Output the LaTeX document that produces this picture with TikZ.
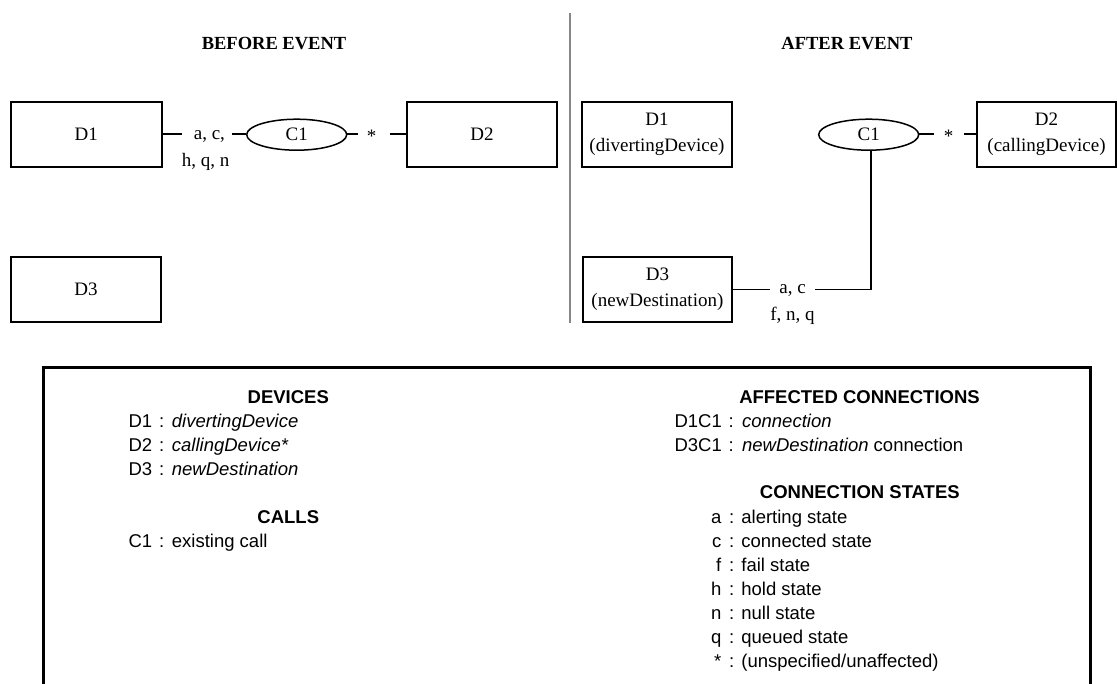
\documentclass[tikz,border=0pt]{standalone}
\usepackage{fontspec}
\setmainfont{Liberation Serif}
\setsansfont{Liberation Sans}
\usetikzlibrary{shapes.geometric}
\definecolor{divgray}{RGB}{135,135,135}
\begin{document}
\begin{tikzpicture}[x=1pt,y=-1pt,
  serif/.style={font=\fontsize{19}{26.6}\selectfont},
  devbox/.style={draw, line width=2pt, inner sep=0pt, minimum height=65pt, align=center, serif},
  callell/.style={draw, ellipse, line width=1.5pt, minimum width=100pt, minimum height=31pt, inner sep=0pt, serif},
  conn/.style={line width=1.8pt},
  lbl/.style={serif, inner sep=0pt, anchor=base},
  hdg/.style={font=\bfseries\fontsize{18.5}{22}\selectfont, inner sep=0pt, anchor=base},
  lgdh/.style={font=\sffamily\bfseries\fontsize{18.5}{22}\selectfont, inner sep=0pt, anchor=base},
  lgdk/.style={font=\sffamily\fontsize{18.5}{22}\selectfont, inner sep=0pt, anchor=base west},
  lgdr/.style={font=\sffamily\fontsize{18.5}{22}\selectfont, inner sep=0pt, anchor=base east},
  lgdc/.style={font=\sffamily\fontsize{18.5}{22}\selectfont, inner sep=0pt, anchor=base},
  lgdv/.style={font=\sffamily\fontsize{18.5}{22}\selectfont, inner sep=0pt, anchor=base west}]
\useasboundingbox (0,0) rectangle (1117,684);

% headings and divider
\node[hdg] (hbefore) at (274,49.8) {BEFORE EVENT};
\node[hdg] (hafter) at (847,49.8) {AFTER EVENT};
\coordinate (dtop) at (570,13.3);
\coordinate (dbot) at (570,323.3);
\draw[divgray, line width=2pt] (dtop) -- (dbot);

% BEFORE EVENT
\node[devbox, minimum width=151pt] (D1b) at (86.2,134.2) {D1};
\node[devbox, minimum width=150.3pt] (D2b) at (481.9,134.2) {D2};
\node[devbox, minimum width=150.5pt] (D3b) at (86,289.3) {D3};
\node[callell] (C1b) at (296.7,134.7) {C1};
\coordinate (b1) at (181.7,134.2);
\coordinate (b2) at (231.7,134.2);
\coordinate (b3) at (358,134.2);
\coordinate (b4) at (390,134.2);
\draw[conn] (D1b.east) -- (b1);
\draw[conn] (b2) -- (C1b.west |- b2);
\draw[conn] (C1b.east |- b3) -- (b3);
\draw[conn] (b4) -- (D2b.west);
\node[lbl] (lb1) at (209.4,140) {a, c,};
\node[lbl] (lb2) at (205.5,166.5) {h, q, n};
\node[lbl] (lb3) at (371.7,142.5) {*};

% AFTER EVENT
\node[devbox, minimum width=149.5pt] (D1a) at (657,134.2) {D1\\(divertingDevice)};
\node[devbox, minimum width=139pt] (D2a) at (1046.5,134.2) {D2\\(callingDevice)};
\node[devbox, minimum width=149.8pt] (D3a) at (657.4,289.3) {D3\\(newDestination)};
\node[callell] (C1a) at (868.7,134.7) {C1};
\coordinate (a3) at (934.4,134.2);
\coordinate (a4) at (964.3,134.2);
\draw[conn] (C1a.east |- a3) -- (a3);
\draw[conn] (a4) -- (D2a.west);
\node[lbl] (la3) at (948.6,142.5) {*};
\coordinate (v1) at (871,289.5);
\coordinate (a2) at (815,289.5);
\coordinate (a1) at (770,289.5);
\draw[conn] (C1a.south -| v1) -- (v1) -- (a2);
\draw[conn] (a1) -- (D3a.east |- a1);
\node[lbl] (la1) at (792.5,293.5) {a, c};
\node[lbl] (la2) at (792.5,320.5) {f, n, q};

% LEGEND frame
\coordinate (fbl) at (43,684);
\coordinate (ftl) at (43,368);
\coordinate (ftr) at (1090,368);
\coordinate (fbr) at (1090,684);
\draw[line width=3pt, line join=miter] (fbl) -- (ftl) -- (ftr) -- (fbr);

% legend left
\node[lgdh] (hdev) at (288.3,403.5) {DEVICES};
\node[lgdk] (k1) at (128.3,427.5) {D1};
\node[lgdc] (c1) at (161.7,427.5) {:};
\node[lgdv] (v1t) at (171.7,427.5) {\itshape divertingDevice};
\node[lgdk] (k2) at (128.3,451.5) {D2};
\node[lgdc] (c2) at (161.7,451.5) {:};
\node[lgdv] (v2t) at (171.7,451.5) {\itshape callingDevice*};
\node[lgdk] (k3) at (128.3,475.5) {D3};
\node[lgdc] (c3) at (161.7,475.5) {:};
\node[lgdv] (v3t) at (171.7,475.5) {\itshape newDestination};
\node[lgdh] (hcalls) at (288.3,523.5) {CALLS};
\node[lgdk] (k4) at (128.3,547.5) {C1};
\node[lgdc] (c4) at (161.7,547.5) {:};
\node[lgdv] (v4t) at (171.7,547.5) {existing call};

% legend right
\node[lgdh] (haff) at (859.5,403.5) {AFFECTED CONNECTIONS};
\node[lgdk] (k5) at (674.4,427.5) {D1C1};
\node[lgdc] (c5) at (731.2,427.5) {:};
\node[lgdv] (v5t) at (741.9,427.5) {\itshape connection};
\node[lgdk] (k6) at (674.4,451.5) {D3C1};
\node[lgdc] (c6) at (731.2,451.5) {:};
\node[lgdv] (v6t) at (741.9,451.5) {\textit{newDestination} connection};
\node[lgdh] (hstates) at (859.8,498.5) {CONNECTION STATES};
\node[lgdr] (s1) at (721.5,523.5) {a};
\node[lgdc] (sc1) at (731.6,523.5) {:};
\node[lgdv] (st1) at (741.2,523.5) {alerting state};
\node[lgdr] (s2) at (721.5,547.5) {c};
\node[lgdc] (sc2) at (731.6,547.5) {:};
\node[lgdv] (st2) at (741.2,547.5) {connected state};
\node[lgdr] (s3) at (721.5,571.5) {f};
\node[lgdc] (sc3) at (731.6,571.5) {:};
\node[lgdv] (st3) at (741.2,571.5) {fail state};
\node[lgdr] (s4) at (721.5,595.5) {h};
\node[lgdc] (sc4) at (731.6,595.5) {:};
\node[lgdv] (st4) at (741.2,595.5) {hold state};
\node[lgdr] (s5) at (721.5,619.5) {n};
\node[lgdc] (sc5) at (731.6,619.5) {:};
\node[lgdv] (st5) at (741.2,619.5) {null state};
\node[lgdr] (s6) at (721.5,643.5) {q};
\node[lgdc] (sc6) at (731.6,643.5) {:};
\node[lgdv] (st6) at (741.2,643.5) {queued state};
\node[lgdr] (s7) at (721.5,667.5) {*};
\node[lgdc] (sc7) at (731.6,667.5) {:};
\node[lgdv] (st7) at (741.2,667.5) {(unspecified/unaffected)};
\end{tikzpicture}
\end{document}
